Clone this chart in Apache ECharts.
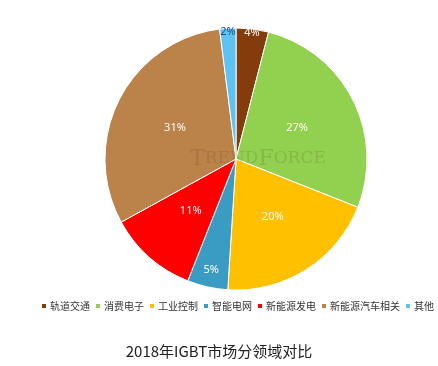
<!DOCTYPE html>
<html><head><meta charset="utf-8">
<script src="https://cdn.jsdelivr.net/npm/echarts@6/dist/echarts.min.js"></script>
<style>html,body{margin:0;padding:0;background:#fff;}#c{width:438px;height:366px;}</style>
</head><body><div id="c"></div>
<script>
var categories = ['轨道交通','消费电子','工业控制','智能电网','新能源发电','新能源汽车相关','其他'];
var values = [4,27,20,5,11,31,2];
var colors = ['#843C0C','#92D050','#FFC000','#3B9CC3','#FF0000','#BB8249','#5CC3F2'];
var titleText = '2018年IGBT市场分领域对比';
var edgeIdx = [0,6];
var midIdx = [3];

var chart = echarts.init(document.getElementById('c'), null, {renderer:'canvas'});
function makeData(showIdx, visible){
  return categories.map(function(n,i){
    var show = showIdx.indexOf(i) >= 0;
    return {name:n, value:values[i],
      itemStyle:{color: visible ? colors[i] : 'rgba(0,0,0,0)'},
      label:{show: visible ? (!show) : show, color: i===6 ? '#1F4E79' : '#fff'}};
  });
}
var labelCfg = {position:'inside', formatter:'{c}%', fontSize:11, fontFamily:'Noto Sans'};
chart.setOption({
  animation:false,
  color: colors,
  title:{text:titleText, left:'center', top:339,
    textStyle:{fontSize:15, fontWeight:'normal', color:'#222', fontFamily:'Noto Sans CJK SC'}},
  legend:{data:categories, top:301, left:40, right:0, padding:0, itemWidth:6, itemHeight:6, itemGap:4,
    icon:'rect', textStyle:{fontSize:10, color:'#333', fontFamily:'Noto Sans CJK SC', padding:[0,0,0,-2]}},
  graphic:[{type:'text', left:190, top:148, silent:true, z:100,
    style:{text:'{a|T}{b|REND}{a|F}{b|ORCE}', fill:'rgba(70,45,20,0.14)',
      rich:{a:{font:'22px "DejaVu Serif"', fill:'rgba(70,45,20,0.14)'},
            b:{font:'17px "DejaVu Serif"', fill:'rgba(70,45,20,0.14)'}}}}],
  series:[{
    type:'pie', center:[236,159], radius:[0,131], startAngle:90, clockwise:true,
    data: makeData(edgeIdx.concat(midIdx), true),
    itemStyle:{borderColor:'#fff', borderWidth:1},
    label: labelCfg, labelLine:{show:false}
  },{
    type:'pie', center:[236,159], radius:[117,131], startAngle:90, clockwise:true, silent:true,
    data: makeData(edgeIdx, false), label: labelCfg, labelLine:{show:false}, legendHoverLink:false
  },{
    type:'pie', center:[236,159], radius:[90,131], startAngle:90, clockwise:true, silent:true,
    data: makeData(midIdx, false), label: labelCfg, labelLine:{show:false}, legendHoverLink:false
  }]
});
</script></body></html>
